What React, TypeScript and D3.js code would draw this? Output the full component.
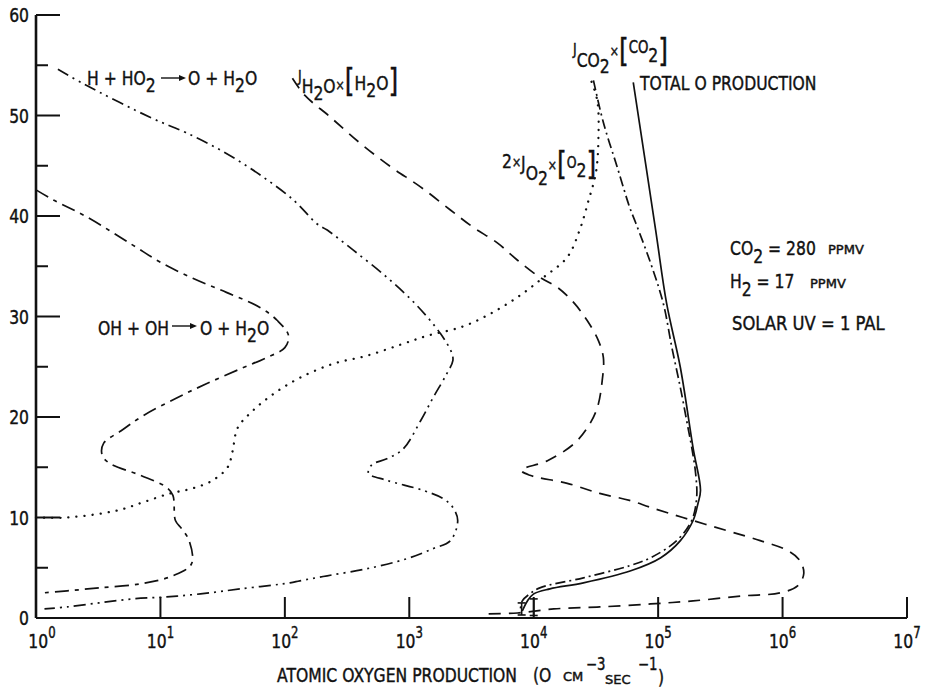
import React from 'react';
import * as d3 from 'd3';

// Axis ticks
const altitudeMajor = [0, 10, 20, 30, 40, 50, 60];
const altitudeMinor = [5, 15, 25, 35, 45, 55];
const decades = [0, 1, 2, 3, 4, 5, 6, 7];

// Series: [production (O cm^-3 s^-1), altitude (km)]
const hPlusHO2: [number, number][] = [[1.5,54.6],[2.45,53.1],[8.5,49.75],[16,48.3],[32,46.4],[63,44.1],[117,41.6],[182,39.2],[219,38.6],[355,36.6],[661,33.9],[1150,31.1],[1780,28.3],[2190,26.4],[2240,25.6],[2000,24.3],[1550,21.9],[1230,19.6],[890,16.8],[660,15.85],[500,15.25],[470,14.4],[660,13.7],[1290,12.7],[1860,11.9],[2240,11.0],[2450,9.7],[2140,7.7],[1550,6.9],[955,5.9],[457,4.9],[219,4.2],[132,3.7],[110,3.5],[44,2.9],[21,2.4],[11.2,2.1],[6.0,1.9],[3.2,1.5],[1.78,1.1],[1.17,0.9]];
const ohPlusOH: [number, number][] = [[1.0,42.6],[1.38,41.6],[2.57,39.9],[6.0,37.1],[10,35.4],[18.2,33.8],[33.9,32.4],[63,30.9],[87,29.6],[107,28.1],[100,26.9],[71,25.9],[44,24.8],[23.4,23.3],[13.5,21.9],[7.2,20.1],[4.8,18.6],[3.5,17.4],[3.4,16.2],[3.9,15.4],[6.9,14.2],[11.2,13.0],[12.6,12.2],[13.2,9.7],[14.8,8.9],[17,7.7],[17.8,5.4],[12.6,4.2],[6.9,3.4],[3.2,3.0],[1.78,2.7],[1.15,2.5]];
const jH2O: [number, number][] = [[115,53.7],[145,52.0],[229,49.9],[398,47.3],[708,44.9],[1230,42.9],[2140,40.6],[3240,38.9],[5130,37.3],[7410,35.6],[11200,33.9],[15500,32.9],[20900,31.4],[26900,29.6],[33100,27.6],[36300,25.9],[35500,23.6],[32400,20.9],[26900,18.9],[20900,17.3],[12900,15.65],[7940,14.7],[9330,14.2],[18600,13.4],[33900,12.4],[58900,11.7],[87100,11.0],[158000,10.0],[355000,8.7],[661000,7.7],[1100000,6.7],[1380000,5.7],[1480000,4.4],[1320000,3.2],[955000,2.5],[479000,2.2],[191000,1.7],[87100,1.4],[33900,1.1],[14500,0.9],[7410,0.5],[4170,0.4]];
const jO2: [number, number][] = [[1.0,10.0],[1.78,10.0],[4.5,10.7],[7.2,11.5],[12,12.4],[18.2,12.9],[26.3,13.7],[34.7,15.0],[38,16.6],[41.7,18.9],[55,20.6],[81,22.3],[132,23.9],[245,25.3],[457,26.1],[851,27.2],[1410,28.1],[2690,29.0],[4680,30.4],[7760,32.1],[12000,33.9],[18600,35.9],[23400,38.6],[27500,41.5],[31600,44.3],[33100,47.6],[32400,51.5],[28200,53.8]];
const jCO2: [number, number][] = [[30200,53.5],[36300,49.3],[46800,44.9],[58900,40.9],[66100,39.3],[87100,35.3],[110000,31.3],[129000,26.9],[151000,22.9],[174000,18.9],[186000,17.0],[200000,14.4],[204000,12.0],[186000,9.7],[141000,7.7],[87100,6.0],[58900,5.2],[25100,4.0],[11200,3.0],[9300,2.4],[8100,1.7],[7800,0.8]];
const totalO: [number, number][] = [[63100,53.3],[95500,38.6],[117000,31.3],[151000,24.9],[191000,16.9],[219000,12.7],[209000,11.4],[191000,9.7],[151000,7.7],[105000,6.0],[60300,4.7],[25100,3.5],[13500,2.9],[10000,2.4],[8900,1.7],[8100,0.7]];
const errorBars = [{ v: 10000, lo: 0.25, hi: 1.9 }, { v: 8000, lo: 0.3, hi: 1.5 }];

const FONT = "'DejaVu Sans', sans-serif";
const SX = 0.78;

type Part = { t: string; s?: number; f?: number };

function Label({ x, y, parts, size = 20, anchor = 'start', sx = SX }: { x: number; y: number; parts: Part[]; size?: number; anchor?: string; sx?: number }) {
  let prev = 0;
  return (
    <text
      transform={`translate(${x},${y}) scale(${sx},1)`}
      fontSize={size}
      textAnchor={anchor}
      fontFamily={FONT}
      style={{ whiteSpace: 'pre' }}
      fill="#111"
      stroke="#111"
      strokeWidth={0.45}
    >
      {parts.map((p, i) => {
        const s = p.s ?? 0;
        const dy = s - prev;
        prev = s;
        return (
          <tspan key={i} dy={dy} fontSize={p.f}>
            {p.t}
          </tspan>
        );
      })}
    </text>
  );
}

function Arrow({ x1, x2, y }: { x1: number; x2: number; y: number }) {
  return (
    <g>
      <line x1={x1} x2={x2 - 5} y1={y} y2={y} stroke="#111" strokeWidth={1.4} />
      <path d={`M${x2},${y} L${x2 - 7},${y - 3} L${x2 - 7},${y + 3} Z`} fill="#111" />
    </g>
  );
}

export default function App() {
  const x = d3.scaleLog().domain([1, 1e7]).range([36, 907]);
  const y = d3.scaleLinear().domain([0, 60]).range([618, 15]);
  const line = d3
    .line<[number, number]>()
    .x((d) => x(d[0]))
    .y((d) => y(d[1]))
    .curve(d3.curveCatmullRom.alpha(0.5));

  const series = [
    { data: hPlusHO2, dash: '12,5,2,5,2,5', cap: 'butt' },
    { data: ohPlusOH, dash: '14,6,4,6', cap: 'butt' },
    { data: jH2O, dash: '12,8', cap: 'butt' },
    { data: jO2, dash: '0.1,8', cap: 'round', w: 2.3 },
    { data: jCO2, dash: '10,4,2,4', cap: 'butt' },
    { data: totalO, dash: undefined, cap: 'butt' },
  ];

  return (
    <svg width={929} height={688} style={{ position: 'absolute', left: 0, top: 0, background: '#fff' }}>
      <rect width={929} height={688} fill="#fff" />
      {/* axes */}
      <line x1={x(1)} x2={x(1)} y1={y(0)} y2={y(60)} stroke="#111" strokeWidth={2.6} />
      <line x1={x(1)} x2={x(1e7)} y1={y(0)} y2={y(0)} stroke="#111" strokeWidth={2.2} />
      {altitudeMajor.map((a) => (
        <g key={'M' + a}>
          {a > 0 && <line x1={x(1)} x2={x(1) + 24} y1={y(a)} y2={y(a)} stroke="#111" strokeWidth={2} />}
          <Label x={29} y={y(a) + 7} parts={[{ t: String(a) }]} anchor="end" />
        </g>
      ))}
      {altitudeMinor.map((a) => (
        <line key={'m' + a} x1={x(1)} x2={x(1) + 12} y1={y(a)} y2={y(a)} stroke="#111" strokeWidth={2} />
      ))}
      {decades.map((e) => (
        <g key={'d' + e}>
          {e > 0 && <line x1={x(10 ** e)} x2={x(10 ** e)} y1={y(0)} y2={y(0) - 21} stroke="#111" strokeWidth={2} />}
          <Label x={x(10 ** e) + (e === 0 ? 6 : 0)} y={648} anchor="middle" parts={[{ t: '10' }, { t: String(e), s: -10, f: 15 }]} />
        </g>
      ))}

      {/* curves */}
      {series.map((s, i) => (
        <path
          key={i}
          d={line(s.data) || ''}
          fill="none"
          stroke="#111"
          strokeWidth={s.w ?? 1.7}
          strokeDasharray={s.dash}
          strokeLinecap={s.cap as any}
          strokeLinejoin="round"
        />
      ))}
      {errorBars.map((b, i) => (
        <g key={'e' + i} stroke="#111" strokeWidth={1.6}>
          <line x1={x(b.v)} x2={x(b.v)} y1={y(b.lo)} y2={y(b.hi)} />
          <line x1={x(b.v) - 4} x2={x(b.v) + 4} y1={y(b.lo)} y2={y(b.lo)} />
          <line x1={x(b.v) - 4} x2={x(b.v) + 4} y1={y(b.hi)} y2={y(b.hi)} />
        </g>
      ))}

      {/* curve labels */}
      <Label x={87} y={85} parts={[{ t: 'H + HO' }, { t: '2', s: 7 }]} />
      <Arrow x1={161} x2={186} y={78} />
      <Label x={188} y={85} parts={[{ t: 'O + H' }, { t: '2', s: 7 }, { t: 'O', s: 0 }]} />

      <Label x={98} y={335} parts={[{ t: 'OH + OH' }]} />
      <Arrow x1={172} x2={197} y={326} />
      <Label x={200} y={335} parts={[{ t: 'O + H' }, { t: '2', s: 7 }, { t: 'O', s: 0 }]} />

      <Label
        x={298}
        y={93}
        parts={[
          { t: 'J', s: -11, f: 16 },
          { t: 'H', s: 0 },
          { t: '2', s: 7 },
          { t: 'O', s: 0 },
          { t: '×', s: -3, f: 14 },
          { t: '[', s: -2, f: 32 },
          { t: 'H', s: -3 },
          { t: '2', s: 4 },
          { t: 'O', s: -3 },
          { t: ']', s: -2, f: 32 },
        ]}
      />
      <Label
        x={573}
        y={67}
        parts={[
          { t: 'J', s: -12, f: 16 },
          { t: 'CO', s: 0 },
          { t: '2', s: 6 },
          { t: '×', s: -11, f: 14 },
          { t: '[', s: -6, f: 32 },
          { t: 'CO', s: -14, f: 17 },
          { t: '2', s: -5 },
          { t: ']', s: -6, f: 32 },
        ]}
      />
      <Label x={640} y={90} parts={[{ t: 'TOTAL O PRODUCTION' }]} />
      <Label
        x={502}
        y={168}
        parts={[
          { t: '2' },
          { t: '×', s: -1, f: 14 },
          { t: 'J', s: 2 },
          { t: 'O', s: 12 },
          { t: '2', s: 17 },
          { t: '×', s: 2, f: 14 },
          { t: '[', s: 6, f: 32 },
          { t: 'O', s: 0, f: 16 },
          { t: '2', s: 9 },
          { t: ']', s: 6, f: 32 },
        ]}
      />

      {/* conditions */}
      <Label x={730} y={255} parts={[{ t: 'CO' }, { t: '2', s: 8 }, { t: ' = 280', s: 0 }]} />
      <Label x={828} y={254} size={13} sx={1} parts={[{ t: 'PPMV' }]} />
      <Label x={730} y={288} parts={[{ t: 'H' }, { t: '2', s: 8 }, { t: ' = 17', s: 0 }]} />
      <Label x={810} y={288} size={13} sx={1} parts={[{ t: 'PPMV' }]} />
      <Label x={732} y={330} sx={0.82} parts={[{ t: 'SOLAR UV = 1 PAL' }]} />

      {/* x axis title */}
      <Label x={277} y={682} parts={[{ t: 'ATOMIC OXYGEN PRODUCTION' }]} />
      <Label x={533} y={682} parts={[{ t: '(O' }]} />
      <Label x={563} y={681} size={13} sx={1} parts={[{ t: 'CM' }]} />
      <Label x={586} y={670} size={17} parts={[{ t: '−3' }]} />
      <Label x={605} y={684} size={13} sx={1} parts={[{ t: 'SEC' }]} />
      <Label x={638} y={670} size={17} parts={[{ t: '−1' }]} />
      <Label x={658} y={684} size={20} parts={[{ t: ')' }]} />
    </svg>
  );
}
